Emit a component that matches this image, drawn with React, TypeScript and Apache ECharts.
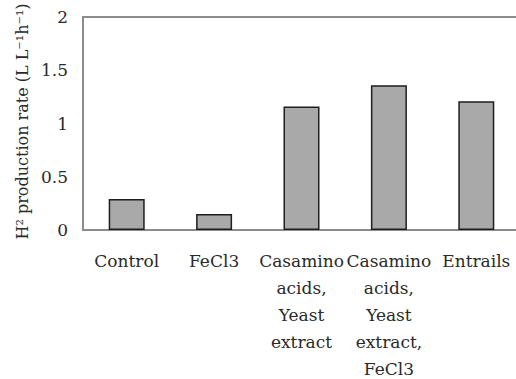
import React, { useEffect, useRef } from "react";
import * as echarts from "echarts";

// Hydrogen production rate for each medium supplement
const categories = [
  "Control",
  "FeCl3",
  "Casamino\nacids,\nYeast\nextract",
  "Casamino\nacids,\nYeast\nextract,\nFeCl3",
  "Entrails",
];
const rates = [0.29, 0.15, 1.16, 1.36, 1.21];
const yTicks = [0, 0.5, 1, 1.5, 2];

const FONT = "'DejaVu Serif', serif";
const TEXT = "#2a2a2a";

export default function App() {
  const ref = useRef<HTMLDivElement>(null);

  useEffect(() => {
    document.body.style.margin = "0";
    if (!ref.current) return;
    const chart = echarts.init(ref.current, undefined, { renderer: "svg" });
    chart.setOption({
      animation: false,
      backgroundColor: "#ffffff",
      grid: {
        left: 83,
        top: 17,
        width: 437,
        height: 213,
        outerBoundsMode: "none",
        containLabel: false,
        show: true,
        borderColor: "#8c8c8c",
        borderWidth: 2,
        backgroundColor: "transparent",
      },
      xAxis: {
        type: "category",
        data: categories,
        axisLine: { show: true, lineStyle: { color: "#8c8c8c", width: 2 } },
        axisTick: { show: false },
        axisLabel: {
          interval: 0,
          margin: 17,
          color: TEXT,
          fontFamily: FONT,
          fontSize: 17,
          lineHeight: 27,
        },
      },
      yAxis: {
        type: "value",
        min: yTicks[0],
        max: yTicks[yTicks.length - 1],
        interval: 0.5,
        splitLine: { show: false },
        axisLine: { show: true, lineStyle: { color: "#8c8c8c", width: 2 } },
        axisTick: { show: false },
        axisLabel: {
          margin: 15,
          color: TEXT,
          fontFamily: FONT,
          fontSize: 17,
        },
        name: "H² production rate (L L⁻¹h⁻¹)",
        nameLocation: "middle",
        nameRotate: 90,
        nameGap: 47,
        nameTextStyle: {
          color: TEXT,
          fontFamily: FONT,
          fontSize: 16,
          padding: [0, 0, 0, 4],
        },
      },
      series: [
        {
          type: "bar",
          data: rates,
          barWidth: 36,
          itemStyle: {
            color: "#a9a9a9",
            borderColor: "#1e1e1e",
            borderWidth: 1.5,
          },
        },
      ],
    });
    return () => chart.dispose();
  }, []);

  return <div ref={ref} style={{ width: 516, height: 379 }} />;
}
